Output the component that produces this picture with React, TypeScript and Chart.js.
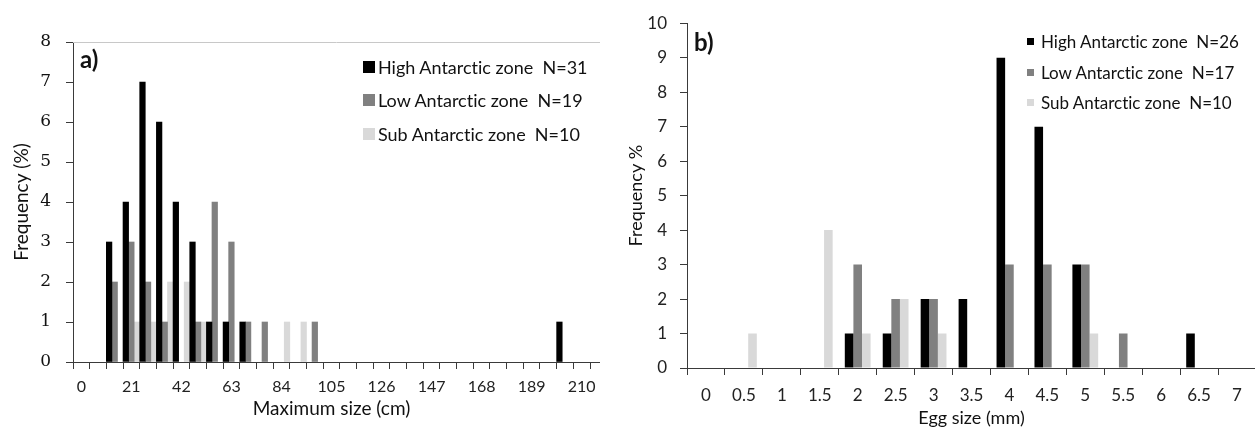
import React, { useEffect, useRef } from 'react';
import { Chart, registerables } from 'chart.js';

Chart.register(...registerables);

// ---------- Panel a) : Maximum size (cm) ----------
const sizeCategories = [
  '0', '7', '14', '21', '28', '35', '42', '49', '56', '63', '70', '77', '84', '91', '98', '105',
  '112', '119', '126', '133', '140', '147', '154', '161', '168', '175', '182', '189', '196', '203', '210',
];
const sizeTickLabels = ['0', '21', '42', '63', '84', '105', '126', '147', '168', '189', '210'];
const sizeHigh = [0, 0, 3, 4, 7, 6, 4, 3, 1, 1, 1, 0, 0, 0, 0, 0, 0, 0, 0, 0, 0, 0, 0, 0, 0, 0, 0, 0, 0, 1, 0];
const sizeLow = [0, 0, 2, 3, 2, 1, 0, 1, 4, 3, 1, 1, 0, 0, 1, 0, 0, 0, 0, 0, 0, 0, 0, 0, 0, 0, 0, 0, 0, 0, 0];
const sizeSub = [0, 0, 0, 1, 1, 2, 2, 1, 0, 0, 0, 0, 1, 1, 0, 0, 0, 0, 0, 0, 0, 0, 0, 0, 0, 0, 0, 0, 0, 0, 0];
const sizeYTicks = [0, 1, 2, 3, 4, 5, 6, 7, 8];
const sizeLegend = ['High Antarctic zone  N=31', 'Low Antarctic zone  N=19', 'Sub Antarctic zone  N=10'];

// ---------- Panel b) : Egg size (mm) ----------
const eggCategories = ['0', '0.5', '1', '1.5', '2', '2.5', '3', '3.5', '4', '4.5', '5', '5.5', '6', '6.5', '7'];
const eggHigh = [0, 0, 0, 0, 1, 1, 2, 2, 9, 7, 3, 0, 0, 1, 0];
const eggLow = [0, 0, 0, 0, 3, 2, 2, 0, 3, 3, 3, 1, 0, 0, 0];
const eggSub = [0, 1, 0, 4, 1, 2, 1, 0, 0, 0, 1, 0, 0, 0, 0];
const eggYTicks = [0, 1, 2, 3, 4, 5, 6, 7, 8, 9, 10];
const eggLegend = ['High Antarctic zone  N=26', 'Low Antarctic zone  N=17', 'Sub Antarctic zone  N=10'];

const seriesColors = ['#000000', '#808080', '#d9d9d9'];
const axisColor = '#3a3a3a';
const sans = "Lato, 'Open Sans', sans-serif";

const leftExtras = {
  id: 'leftExtras',
  afterDraw(chart: any) {
    const { ctx, chartArea } = chart;
    ctx.save();
    ctx.strokeStyle = '#c8c8c8';
    ctx.lineWidth = 1;
    ctx.beginPath();
    ctx.moveTo(chartArea.left, Math.round(chartArea.top) + 0.5);
    ctx.lineTo(chartArea.right + 10, Math.round(chartArea.top) + 0.5);
    ctx.stroke();
    ctx.strokeStyle = axisColor;
    ctx.beginPath();
    ctx.moveTo(chartArea.right, Math.round(chartArea.bottom) + 0.5);
    ctx.lineTo(chartArea.right + 10, Math.round(chartArea.bottom) + 0.5);
    ctx.stroke();
    ctx.restore();
  },
};

function datasets(h: number[], l: number[], s: number[], names: string[]) {
  return [h, l, s].map((d, i) => ({
    label: names[i],
    data: d.map((v) => (v === 0 ? null : v)),
    backgroundColor: seriesColors[i],
    borderWidth: 0,
  }));
}

export default function App() {
  const leftRef = useRef<HTMLCanvasElement>(null);
  const rightRef = useRef<HTMLCanvasElement>(null);

  useEffect(() => {
    const left = new Chart(leftRef.current as HTMLCanvasElement, {
      type: 'bar',
      data: { labels: sizeCategories, datasets: datasets(sizeHigh, sizeLow, sizeSub, sizeLegend) as any },
      plugins: [leftExtras],
      options: {
        responsive: false,
        animation: false,
        layout: { padding: { left: 0, right: 30, top: 42, bottom: 0 } },
        datasets: { bar: { categoryPercentage: 1, barPercentage: 1 } } as any,
        plugins: { legend: { display: false }, tooltip: { enabled: false } },
        scales: {
          x: {
            type: 'category',
            offset: true,
            grid: { display: true, offset: true, drawOnChartArea: false, drawTicks: true, tickLength: 7, color: axisColor, tickColor: axisColor },
            border: { display: true, color: axisColor, width: 1 },
            ticks: {
              autoSkip: false,
              maxRotation: 0,
              minRotation: 0,
              padding: 8,
              color: '#222',
              font: { family: sans, size: 16 },
              callback: (_v: any, i: number) => (sizeTickLabels.includes(sizeCategories[i]) ? sizeCategories[i] : ''),
            },
            title: { display: true, text: 'Maximum size (cm)', color: '#111', font: { family: sans, size: 19 }, padding: { top: 0, bottom: 12 } },
            afterFit: (s: any) => { s.height = 70; },
          },
          y: {
            min: 0,
            max: 8,
            afterBuildTicks: (s: any) => { s.ticks = sizeYTicks.map((v) => ({ value: v })); },
            grid: { drawOnChartArea: false, drawTicks: true, tickLength: 7, color: axisColor, tickColor: axisColor },
            border: { display: true, color: axisColor, width: 1 },
            ticks: { padding: 15, color: '#111', font: { family: "'DejaVu Serif', serif", size: 17 } },
            title: { display: true, text: 'Frequency (%)', color: '#111', font: { family: sans, size: 19 }, padding: { top: 10, bottom: 0 } },
            afterFit: (s: any) => { s.width = 73; },
          },
        },
      } as any,
    });

    const right = new Chart(rightRef.current as HTMLCanvasElement, {
      type: 'bar',
      data: { labels: eggCategories, datasets: datasets(eggHigh, eggLow, eggSub, eggLegend) as any },
      options: {
        responsive: false,
        animation: false,
        layout: { padding: { left: 0, right: 0, top: 20, bottom: 0 } },
        datasets: { bar: { categoryPercentage: 0.68, barPercentage: 1 } } as any,
        plugins: { legend: { display: false }, tooltip: { enabled: false } },
        scales: {
          x: {
            type: 'category',
            offset: true,
            grid: { display: true, offset: true, drawOnChartArea: false, drawTicks: true, tickLength: 7, color: axisColor, tickColor: axisColor },
            border: { display: true, color: axisColor, width: 1 },
            ticks: { autoSkip: false, maxRotation: 0, minRotation: 0, padding: 10, color: '#222', font: { family: sans, size: 17 } },
            title: { display: true, text: 'Egg size (mm)', color: '#111', font: { family: sans, size: 18 }, padding: { top: 0, bottom: 3 } },
            afterFit: (s: any) => { s.height = 64; },
          },
          y: {
            min: 0,
            max: 10,
            afterBuildTicks: (s: any) => { s.ticks = eggYTicks.map((v) => ({ value: v })); },
            grid: { drawOnChartArea: false, drawTicks: true, tickLength: 7, color: axisColor, tickColor: axisColor },
            border: { display: true, color: axisColor, width: 1 },
            ticks: { padding: 13, color: '#222', font: { family: sans, size: 17 } },
            title: { display: true, text: 'Frequency %', color: '#111', font: { family: sans, size: 18 }, padding: { top: 5, bottom: 0 } },
            afterFit: (s: any) => { s.width = 67; },
          },
        },
      } as any,
    });

    return () => {
      left.destroy();
      right.destroy();
    };
  }, []);

  const legendRow = (text: string, i: number, x: number, y: number, box: number, gap: number, size: number) => (
    <div key={text} style={{ position: 'absolute', left: x, top: y - 12, height: 24, display: 'flex', alignItems: 'center', whiteSpace: 'pre', fontFamily: sans, fontSize: size, fontVariantLigatures: 'none', color: '#111' }}>
      <span style={{ display: 'inline-block', width: box, height: box, background: seriesColors[i], marginRight: gap, flex: 'none' }} />
      <span>{text}</span>
    </div>
  );

  return (
    <div style={{ position: 'absolute', left: 0, top: 0, width: 1255, height: 432, overflow: 'hidden', background: '#fff' }}>
      <canvas ref={leftRef} width={620} height={432} style={{ position: 'absolute', left: 0, top: 0, width: 620, height: 432 }} />
      <canvas ref={rightRef} width={636} height={432} style={{ position: 'absolute', left: 620, top: 0, width: 636, height: 432 }} />
      <div style={{ position: 'absolute', left: 80, top: 45, fontFamily: sans, fontWeight: 700, fontSize: 24, lineHeight: '28px', color: '#111' }}>a)</div>
      <div style={{ position: 'absolute', left: 694, top: 28, fontFamily: sans, fontWeight: 700, fontSize: 24, lineHeight: '28px', color: '#111' }}>b)</div>
      {sizeLegend.map((t, i) => legendRow(t, i, 363, [67, 100, 134][i], 12, 3, 18))}
      {eggLegend.map((t, i) => legendRow(t, i, 1027, [41, 72, 102][i], 7, 7, 17))}
    </div>
  );
}
